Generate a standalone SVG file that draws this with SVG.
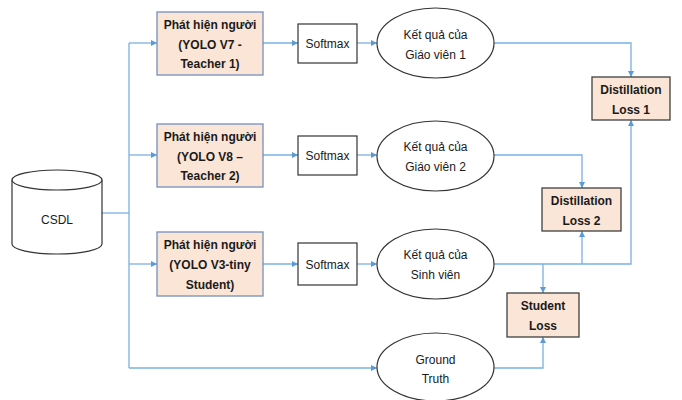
<svg xmlns="http://www.w3.org/2000/svg" width="682" height="400" viewBox="0 0 682 400">
<defs>
<marker id="ah" viewBox="0 0 6 6" refX="6" refY="3" markerWidth="6" markerHeight="6" markerUnits="userSpaceOnUse" orient="auto">
<path d="M0,0 L6,3 L0,6 Z" fill="#5b9bd5"/>
</marker>
<style>
.t{font-family:"Liberation Sans",Arial,sans-serif;font-size:12px;fill:#1a1a1a;text-anchor:middle}
.b{font-weight:bold}
.peach{fill:#fbe5d6}
.blue{stroke:#7390bd;stroke-width:1.3}
.dark{stroke:#404040;stroke-width:1.3}
.plain{fill:#fff;stroke:#333;stroke-width:1.2}
.c{fill:none;stroke:#7ab0e2;stroke-width:1.3}
.a{marker-end:url(#ah)}
</style>
</defs>
<rect width="682" height="400" fill="#fff"/>
<g id="connectors">
<path class="c" d="M102,213 H129"/>
<path class="c" d="M129,43 V368"/>
<path class="c a" d="M129,43 H157"/>
<path class="c a" d="M129,155 H157"/>
<path class="c a" d="M129,264 H157"/>
<path class="c a" d="M129,368 H377"/>
<path class="c a" d="M263,43 H298"/>
<path class="c a" d="M263,155 H298"/>
<path class="c a" d="M263,264 H298"/>
<path class="c a" d="M357,43 H377"/>
<path class="c a" d="M357,155 H377"/>
<path class="c a" d="M357,264 H377"/>
<path class="c a" d="M494,43 H631 V77"/>
<path class="c a" d="M494,155 H582 V188"/>
<path class="c a" d="M494,264 H631 V120"/>
<path class="c a" d="M582,264 V231"/>
<path class="c a" d="M543,264 V293"/>
<path class="c a" d="M494,368 H543 V337"/>
</g>
<g id="csdl">
<path class="plain" d="M12,180 V244 A45,10 0 0 0 102,244 V180"/>
<ellipse class="plain" cx="57" cy="180" rx="45" ry="10"/>
<text class="t" x="57" y="224">CSDL</text>
</g>
<g id="teacher1">
<rect class="peach blue" x="157" y="12" width="106" height="63"/>
<text class="t b" x="210" y="29">Phát hiện người</text>
<text class="t b" x="210" y="49">(YOLO V7 -</text>
<text class="t b" x="210" y="68">Teacher 1)</text>
</g>
<g id="teacher2">
<rect class="peach blue" x="157" y="124" width="106" height="63"/>
<text class="t b" x="210" y="141">Phát hiện người</text>
<text class="t b" x="210" y="161">(YOLO V8 –</text>
<text class="t b" x="210" y="180">Teacher 2)</text>
</g>
<g id="student">
<rect class="peach blue" x="157" y="232" width="106" height="64"/>
<text class="t b" x="210" y="249">Phát hiện người</text>
<text class="t b" x="210" y="269">(YOLO V3-tiny</text>
<text class="t b" x="210" y="289">Student)</text>
</g>
<g id="softmax1">
<rect class="plain" x="298" y="24" width="59" height="39"/>
<text class="t" x="327.5" y="48">Softmax</text>
</g>
<g id="softmax2">
<rect class="plain" x="298" y="136" width="59" height="39"/>
<text class="t" x="327.5" y="160">Softmax</text>
</g>
<g id="softmax3">
<rect class="plain" x="298" y="243" width="59" height="42"/>
<text class="t" x="327.5" y="269">Softmax</text>
</g>
<g id="result1">
<ellipse class="plain" cx="435.5" cy="43" rx="58.5" ry="35"/>
<text class="t" x="435.5" y="39">Kết quả của</text>
<text class="t" x="435.5" y="59">Giáo viên 1</text>
</g>
<g id="result2">
<ellipse class="plain" cx="435.5" cy="156" rx="58.5" ry="35"/>
<text class="t" x="435.5" y="151">Kết quả của</text>
<text class="t" x="435.5" y="171">Giáo viên 2</text>
</g>
<g id="result3">
<ellipse class="plain" cx="435.5" cy="264" rx="58.5" ry="35"/>
<text class="t" x="435.5" y="259">Kết quả của</text>
<text class="t" x="435.5" y="279">Sinh viên</text>
</g>
<g id="groundtruth">
<ellipse class="plain" cx="435.5" cy="367" rx="58.5" ry="34"/>
<text class="t" x="435.5" y="364">Ground</text>
<text class="t" x="435.5" y="383">Truth</text>
</g>
<g id="dloss1">
<rect class="peach dark" x="592" y="77" width="78" height="43"/>
<text class="t b" x="631" y="94">Distillation</text>
<text class="t b" x="631" y="114">Loss 1</text>
</g>
<g id="dloss2">
<rect class="peach dark" x="542" y="188" width="79" height="43"/>
<text class="t b" x="581.5" y="205">Distillation</text>
<text class="t b" x="581.5" y="225">Loss 2</text>
</g>
<g id="studentloss">
<rect class="peach dark" x="507" y="293" width="72" height="44"/>
<text class="t b" x="543" y="310">Student</text>
<text class="t b" x="543" y="330">Loss</text>
</g>
</svg>
